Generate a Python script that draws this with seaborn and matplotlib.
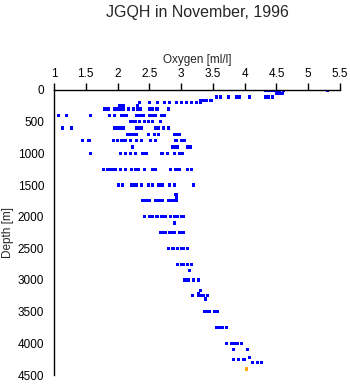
import matplotlib
matplotlib.use("Agg")
import matplotlib.pyplot as plt
import seaborn as sns
import pandas as pd

title = "JGQH in November, 1996"
x_label = "Oxygen [ml/l]"
y_label = "Depth [m]"
x_ticks = [1, 1.5, 2, 2.5, 3, 3.5, 4, 4.5, 5, 5.5]
x_tick_labels = ["1", "1.5", "2", "2.5", "3", "3.5", "4", "4.5", "5", "5.5"]
y_ticks = [0, 500, 1000, 1500, 2000, 2500, 3000, 3500, 4000, 4500]

depth_levels = [0, 60, 110, 160, 200, 250, 300, 400, 500, 600, 700, 800, 900,
                1000, 1250, 1500, 1650, 1700, 1750, 2000, 2100, 2250, 2500,
                2750, 2850, 3000, 3160, 3210, 3250, 3300, 3500, 3750, 4000,
                4100, 4220, 4250, 4300]
oxygen_levels = [
    [4.33, 4.38, 4.42, 4.46, 4.5, 4.55, 4.61, 5.31],
    [4.5, 4.55, 4.6],
    [3.56, 3.62, 3.74, 3.87, 3.92, 4.07, 4.33, 4.38, 4.44],
    [3.3, 3.35, 3.4, 3.47],
    [2.34, 2.5, 2.63, 2.74, 2.82, 2.93, 3.01, 3.09, 3.16, 3.24, 3.3],
    [2.03, 2.07, 2.1, 2.31],
    [1.8, 1.85, 1.95, 2.0, 2.05, 2.1, 2.17, 2.25, 2.31, 2.36, 2.5, 2.55, 2.62, 2.8],
    [1.07, 1.2, 1.57, 1.87, 1.95, 2.06, 2.1, 2.14, 2.3, 2.35, 2.4, 2.5, 2.55, 2.6, 2.7, 2.74],
    [2.21, 2.25, 2.28, 2.35, 2.42, 2.48, 2.55, 2.68],
    [1.13, 1.28, 1.95, 2.0, 2.05, 2.1, 2.3, 2.35, 2.38, 2.6, 2.65, 2.72, 2.8],
    [2.15, 2.2, 2.25, 2.3, 2.48, 2.58, 2.65, 2.9, 2.94, 2.98],
    [1.45, 1.55, 1.93, 2.0, 2.07, 2.13, 2.2, 2.3, 2.37, 2.52, 2.6, 2.92, 3.0, 3.06],
    [2.23, 2.87, 2.92, 2.95, 3.1, 3.14],
    [1.57, 2.05, 2.12, 2.2, 2.28, 2.4, 2.46, 2.7, 2.78, 2.9, 2.97, 3.02],
    [1.78, 1.85, 1.9, 1.96, 2.05, 2.12, 2.22, 2.28, 2.33, 2.42, 2.55, 2.6,
     2.83, 2.92, 2.98, 3.1, 3.17],
    [2.02, 2.08, 2.22, 2.27, 2.3, 2.37, 2.48, 2.55, 2.65, 2.7, 2.82, 2.9, 3.2],
    [2.92],
    [2.93],
    [2.4, 2.45, 2.5, 2.6, 2.65, 2.7, 2.8, 2.85, 2.9, 2.93],
    [2.42, 2.5, 2.55, 2.62, 2.7, 2.76, 2.83, 2.9, 2.95, 3.0, 3.03],
    [2.9],
    [2.67, 2.72, 2.75, 2.82, 2.86, 2.9, 2.97, 3.03],
    [2.8, 2.86, 2.88, 2.95, 3.0, 3.03, 3.1],
    [2.95, 3.0, 3.03, 3.1, 3.16],
    [3.13],
    [3.05, 3.1, 3.12, 3.2, 3.27],
    [3.3],
    [3.28],
    [3.18, 3.27, 3.31, 3.35, 3.42],
    [3.38],
    [3.37, 3.42, 3.45, 3.52, 3.57],
    [3.56, 3.6, 3.65, 3.72],
    [3.72, 3.8, 3.85, 3.88, 3.95],
    [3.83, 4.05],
    [4.08],
    [3.82, 3.9, 3.98, 4.0],
    [4.12, 4.2, 4.26],
]
orange_depth = [4405]
orange_oxygen = [4.03]

rows = []
for d, vals in zip(depth_levels, oxygen_levels):
    for v in vals:
        rows.append({"depth": d, "oxygen": v, "flag": "good"})
for d, v in zip(orange_depth, orange_oxygen):
    rows.append({"depth": d, "oxygen": v, "flag": "odd"})
df = pd.DataFrame(rows)

sns.set_style("white")
plt.rcParams["font.family"] = ["Liberation Sans", "DejaVu Sans"]

fig = plt.figure(figsize=(3.5, 3.84), dpi=100)
ax = fig.add_axes([54 / 350, 1 - 375 / 384, 286 / 350, 285 / 384])

sns.scatterplot(data=df, x="oxygen", y="depth", hue="flag",
                palette={"good": "#0000ff", "odd": "#ffa500"},
                marker="s", s=5, linewidth=0, legend=False, ax=ax)

ax.set_xlim(1, 5.5)
ax.set_ylim(4500, 0)
ax.xaxis.tick_top()
ax.xaxis.set_label_position("top")
ax.set_xticks(x_ticks)
ax.set_xticklabels(x_tick_labels)
ax.set_yticks(y_ticks)
ax.set_yticklabels([str(t) for t in y_ticks])
ax.tick_params(axis="both", direction="out", length=5, width=1, colors="black",
               labelsize=8.5, pad=2)
for side in ["right", "bottom"]:
    ax.spines[side].set_visible(False)
for side in ["top", "left"]:
    ax.spines[side].set_visible(True)
    ax.spines[side].set_color("black")
    ax.spines[side].set_linewidth(1)
ax.set_xlabel(x_label, fontsize=8.5, labelpad=4)
ax.set_ylabel(y_label, fontsize=8.5, labelpad=3)
ax.grid(False)
fig.text(197 / 350, 1 - 12 / 384, title, ha="center", va="center", fontsize=11.5)

fig.savefig("out.png", dpi=100)
